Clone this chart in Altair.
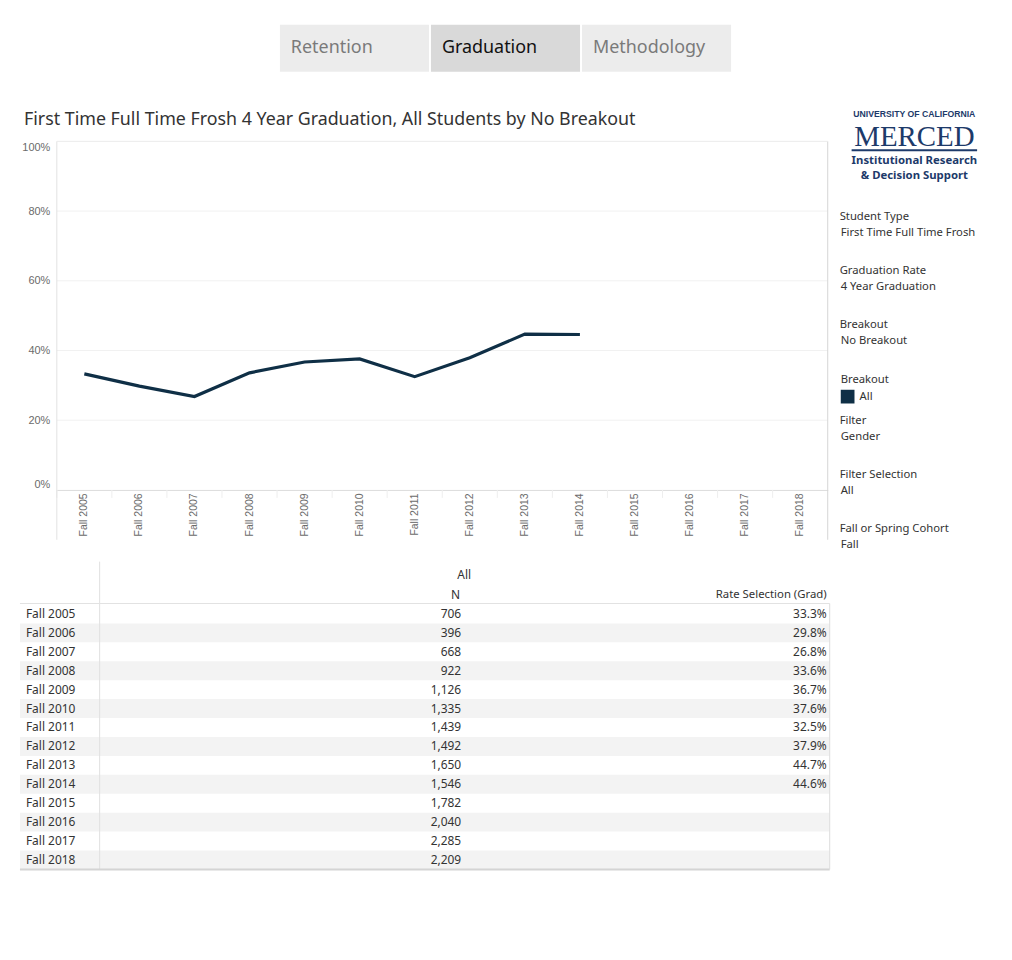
import altair as alt
import pandas as pd

# ---------------- data ----------------
years = ["Fall 2005", "Fall 2006", "Fall 2007", "Fall 2008", "Fall 2009", "Fall 2010", "Fall 2011",
         "Fall 2012", "Fall 2013", "Fall 2014", "Fall 2015", "Fall 2016", "Fall 2017", "Fall 2018"]
n_students = [706, 396, 668, 922, 1126, 1335, 1439, 1492, 1650, 1546, 1782, 2040, 2285, 2209]
grad_rate = [33.3, 29.8, 26.8, 33.6, 36.7, 37.6, 32.5, 37.9, 44.7, 44.6, None, None, None, None]
breakout = "All"
tabs = ["Retention", "Graduation", "Methodology"]
selected_tab = "Graduation"
y_ticks = [0, 20, 40, 60, 80, 100]
panel_headings = ["Student Type", "Graduation Rate", "Breakout", "Filter", "Filter Selection", "Fall or Spring Cohort"]
panel_values = ["First Time Full Time Frosh", "4 Year Graduation", "No Breakout", "Gender", "All", "Fall"]
title_text = "First Time Full Time Frosh 4 Year Graduation, All Students by No Breakout"
table_group = "All"
col_n = "N"
col_rate = "Rate Selection (Grad)"
logo_lines = ["UNIVERSITY OF CALIFORNIA", "MERCED", "Institutional Research", "& Decision Support"]

df = pd.DataFrame({"year": years, "n": n_students, "rate": grad_rate,
                   "breakout": breakout, "row": list(range(len(years)))})
tabs_df = pd.DataFrame({"tab": tabs, "sel": [t == selected_tab for t in tabs]})
one = pd.DataFrame({"k": [0]})

# ---------------- style ----------------
W, H = 1000, 940
FONT = "Noto Sans"
AXFONT = "Liberation Sans"
NAVY = "#0f2f46"
LOGO = "#1d3a6a"
TXT = "#333333"

layers = []

# tabs
tab_scale = alt.Scale(type="band", domain=tabs, range=[273, 726], paddingInner=0.013, paddingOuter=0)
layers.append(alt.Chart(tabs_df).mark_rect().encode(
    x=alt.X("tab:N", scale=tab_scale, axis=None),
    y=alt.value(15), y2=alt.value(62),
    fill=alt.when(alt.datum.sel).then(alt.value("#d9d9d9")).otherwise(alt.value("#ececec"))))
layers.append(alt.Chart(tabs_df).mark_text(align="left", baseline="middle", dx=11, fontSize=18, font=FONT).encode(
    x=alt.X("tab:N", scale=tab_scale, axis=None, bandPosition=0),
    y=alt.value(38), text="tab:N",
    color=alt.when(alt.datum.sel).then(alt.value("#111111")).otherwise(alt.value("#7a7a7a"))))

# title
layers.append(alt.Chart(pd.DataFrame({"t": [title_text]})).mark_text(
    align="left", baseline="middle", fontSize=17.9, font=FONT, color=TXT).encode(
    x=alt.value(16), y=alt.value(111), text="t:N"))

# line chart
xs = alt.Scale(type="band", domain=years, range=[49, 823], paddingInner=0, paddingOuter=0)
ys = alt.Scale(domain=[0, 100], range=[482, 132])

layers.append(alt.Chart(pd.DataFrame({"v": y_ticks[1:-1]})).mark_rule(color="#f1f1f1", strokeWidth=1).encode(
    y=alt.Y("v:Q", scale=ys, axis=None), x=alt.value(49), x2=alt.value(823)))

# faint band dividers under the x axis line
layers.append(alt.Chart(df).mark_rule(color="#eeeeee", strokeWidth=1).encode(
    x=alt.X("year:N", scale=xs, axis=None, bandPosition=0), y=alt.value(482), y2=alt.value(490)))

layers.append(alt.Chart(df).mark_line(strokeWidth=3.2).encode(
    x=alt.X("year:N", scale=xs, bandPosition=0.5, sort=years,
            axis=alt.Axis(orient="bottom", offset=482 - H, title=None, labelAngle=270, labelAlign="right",
                          labelBaseline="middle", labelPadding=3, labelFont=AXFONT, labelFontSize=10.5,
                          labelColor="#6b6b6b", ticks=False,
                          domainColor="#dcdcdc", grid=False, labelOverlap=False)),
    y=alt.Y("rate:Q", scale=ys,
            axis=alt.Axis(orient="left", offset=-49, title=None, values=y_ticks, labelExpr="datum.value + '%'",
                          ticks=False, domain=False, grid=False, labelFlush=True, labelPadding=7,
                          labelFont=AXFONT, labelFontSize=11, labelColor="#6b6b6b")),
    color=alt.Color("breakout:N", scale=alt.Scale(domain=[breakout], range=[NAVY]),
                    legend=alt.Legend(orient="none", legendX=836, legendY=366, title="Breakout",
                                      titleFont=FONT, titleFontSize=11.3, titleFontWeight="normal", titleColor=TXT,
                                      titlePadding=4, labelFont=FONT, labelFontSize=11.3, labelColor=TXT,
                                      symbolType="square", symbolSize=190, symbolFillColor=NAVY,
                                      symbolStrokeColor=NAVY, symbolStrokeWidth=0, labelOffset=5, padding=0))))

# plot frame
for (x1, x2, y1, y2, c) in [(49, None, 132, 532, "#e2e2e2"), (823, None, 132, 532, "#d6d6d6"),
                            (49, 823, 132, None, "#ebebeb")]:
    enc = {"x": alt.value(x1), "y": alt.value(y1)}
    if x2 is not None:
        enc["x2"] = alt.value(x2)
    if y2 is not None:
        enc["y2"] = alt.value(y2)
    layers.append(alt.Chart(one).mark_rule(color=c, strokeWidth=1).encode(**enc))

# side panel
head_y = [208, 262, 316, 413, 467, 521]
for h, v, yy in zip(panel_headings, panel_values, head_y):
    layers.append(alt.Chart(pd.DataFrame({"t": [h]})).mark_text(
        align="left", baseline="middle", fontSize=11.3, font=FONT, color=TXT).encode(
        x=alt.value(835), y=alt.value(yy), text="t:N"))
    layers.append(alt.Chart(pd.DataFrame({"t": [v]})).mark_text(
        align="left", baseline="middle", fontSize=11.3, font=FONT, color=TXT).encode(
        x=alt.value(836), y=alt.value(yy + 16), text="t:N"))

# logo
logo_specs = [(logo_lines[0], 104.5, 8.7, "bold", "Liberation Sans"),
              (logo_lines[1], 127.5, 29, "normal", "Liberation Serif"),
              (logo_lines[2], 152, 11.4, "bold", FONT),
              (logo_lines[3], 166.5, 11.4, "bold", FONT)]
for t, yy, fs, fw, ff in logo_specs:
    layers.append(alt.Chart(pd.DataFrame({"t": [t]})).mark_text(
        align="center", baseline="middle", fontSize=fs, fontWeight=fw, font=ff, color=LOGO).encode(
        x=alt.value(910), y=alt.value(yy), text="t:N"))
layers.append(alt.Chart(one).mark_rule(color=LOGO, strokeWidth=2).encode(
    x=alt.value(847), x2=alt.value(973), y=alt.value(141)))

# table
ty = alt.Scale(type="band", domain=years, range=[597, 863], paddingInner=0, paddingOuter=0)
layers.append(alt.Chart(df).transform_filter("datum.row % 2 == 1").mark_rect(color="#f3f3f3").encode(
    y=alt.Y("year:N", scale=ty, axis=None), x=alt.value(12), x2=alt.value(825)))
layers.append(alt.Chart(df).mark_text(align="left", baseline="middle", fontSize=12, font=FONT, color=TXT).encode(
    y=alt.Y("year:N", scale=ty, axis=None, bandPosition=0.5), x=alt.value(18), text="year:N"))
layers.append(alt.Chart(df).mark_text(align="right", baseline="middle", fontSize=12, font=FONT, color=TXT).encode(
    y=alt.Y("year:N", scale=ty, axis=None, bandPosition=0.5), x=alt.value(455),
    text=alt.Text("n:Q", format=",")))
layers.append(alt.Chart(df).transform_filter("isValid(datum.rate)").transform_calculate(
    lab="format(datum.rate, '.1f') + '%'").mark_text(
    align="right", baseline="middle", fontSize=12, font=FONT, color=TXT).encode(
    y=alt.Y("year:N", scale=ty, axis=None, bandPosition=0.5), x=alt.value(822), text="lab:N"))
for t, xx, al, yy, fs in [(table_group, 458, "center", 567, 12), (col_n, 454, "right", 587, 12),
                          (col_rate, 822, "right", 587, 11.4)]:
    layers.append(alt.Chart(pd.DataFrame({"t": [t]})).mark_text(
        align=al, baseline="middle", fontSize=fs, font=FONT, color=TXT).encode(
        x=alt.value(xx), y=alt.value(yy), text="t:N"))
for (x1, x2, y1, y2, c, w) in [(92, None, 554, 863, "#e0e0e0", 1), (12, 825, 596, None, "#e2e2e2", 1),
                               (12, 825, 863, None, "#d4d4d4", 2), (825, None, 596, 863, "#dddddd", 1)]:
    enc = {"x": alt.value(x1), "y": alt.value(y1)}
    if x2 is not None:
        enc["x2"] = alt.value(x2)
    if y2 is not None:
        enc["y2"] = alt.value(y2)
    layers.append(alt.Chart(one).mark_rule(color=c, strokeWidth=w).encode(**enc))

chart = alt.layer(*layers).resolve_scale(
    x="independent", y="independent", color="independent", fill="independent"
).properties(
    width=W, height=H, autosize=alt.AutoSizeParams(type="none"), padding=0
).configure_view(stroke=None)

chart.save("out.html", embed_options={"renderer": "svg", "actions": False})
